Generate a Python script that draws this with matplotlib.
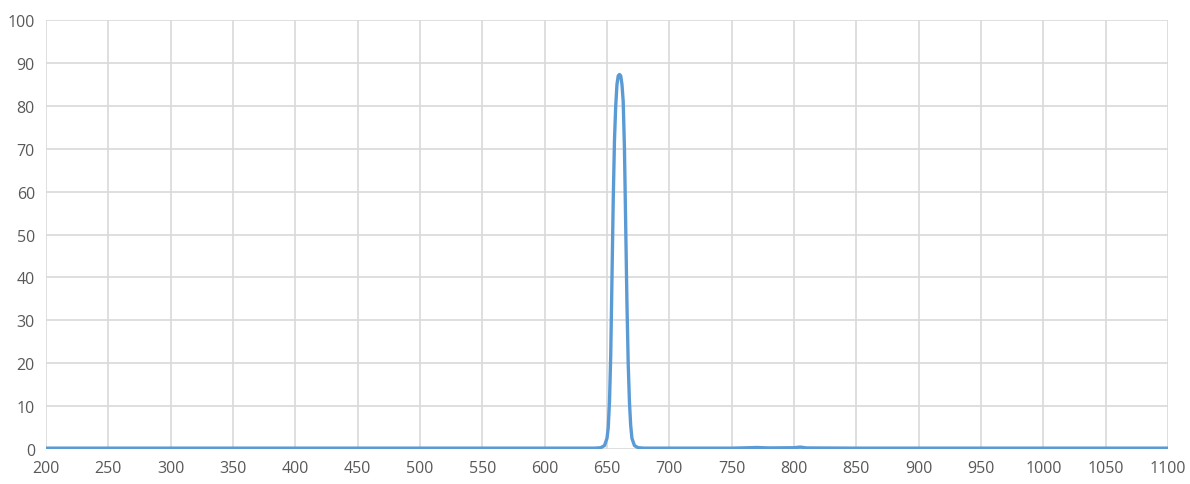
import matplotlib
matplotlib.use("Agg")
import matplotlib.pyplot as plt

wavelength = [200, 300, 400, 500, 600, 640, 645, 648, 650, 651, 652, 653, 654, 655, 656,
              657, 658, 659, 660, 661, 662, 663, 664, 665, 666, 667, 668, 669, 670,
              672, 675, 680, 700, 750, 765, 770, 780, 800, 805, 810, 850, 900, 1000, 1100]
transmission = [0.2, 0.2, 0.2, 0.2, 0.2, 0.2, 0.3, 0.8, 2.5, 5, 11, 22, 40, 58, 72,
                80, 85, 87, 87.3, 87, 85, 81, 70, 52, 34, 20, 11, 5.5, 2.5,
                0.8, 0.3, 0.2, 0.2, 0.2, 0.3, 0.35, 0.25, 0.3, 0.45, 0.25, 0.2, 0.2, 0.2, 0.2]

x_ticks = list(range(200, 1101, 50))
y_ticks = list(range(0, 101, 10))

fig = plt.figure(figsize=(11.9, 4.85), dpi=100)
ax = fig.add_axes([46/1190, 1-450/485, (1168-46)/1190, (450-21)/485])
ax.plot(wavelength, transmission, color="#5B9BD5", lw=2.4, solid_capstyle="round",
        solid_joinstyle="round", zorder=3)
ax.set_xlim(200, 1100)
ax.set_ylim(0, 100)
ax.set_xticks(x_ticks)
ax.set_yticks(y_ticks)
ax.grid(True, color="#D9D9D9", lw=1.2)
ax.set_axisbelow(True)
for s in ax.spines.values():
    s.set_visible(False)
ax.tick_params(length=0, labelsize=11.5, labelcolor="#595959", pad=8)
for lab in ax.get_xticklabels() + ax.get_yticklabels():
    lab.set_family("Open Sans")
fig.savefig("out.png", dpi=100, facecolor="white")
